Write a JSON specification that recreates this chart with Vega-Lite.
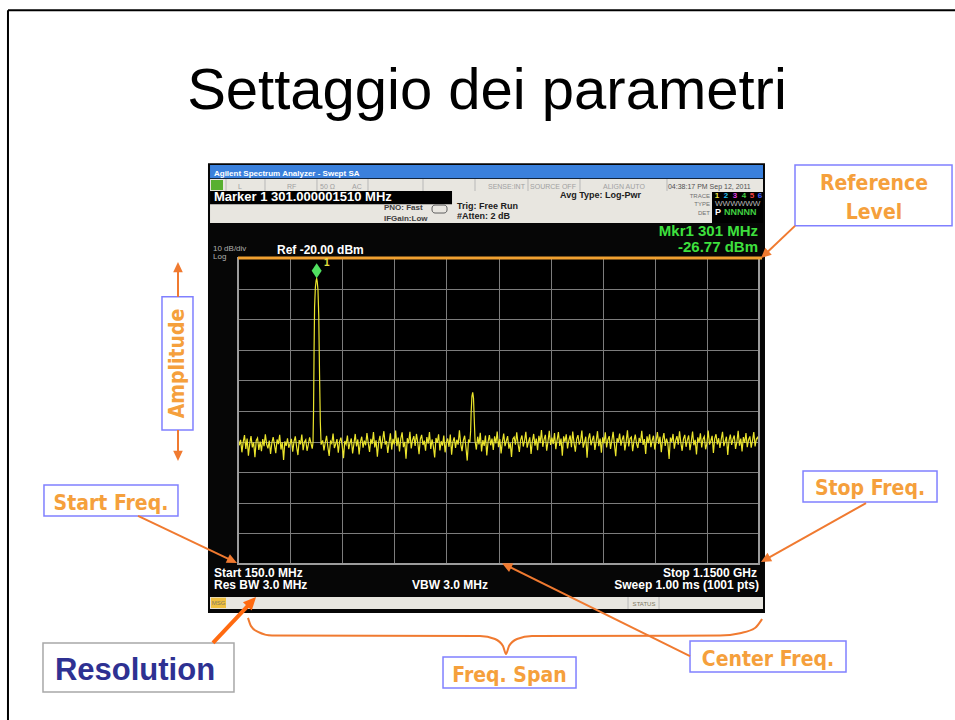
{
"$schema":"https://vega.github.io/schema/vega-lite/v6.json",
"width":521,"height":306,
"autosize":{"type":"none"},
"padding":{"left":238,"top":258,"right":196,"bottom":156},
"background":"#ffffff",
"config":{"font":"Liberation Sans","view":{"fill":"#000000","stroke":null},"text":{"baseline":"alphabetic"}},
"datasets":{"trace":[
{"f":150,"a":-78.6},{"f":152.5,"a":-81.2},{"f":155,"a":-79.4},{"f":157.5,"a":-83.5},{"f":160,"a":-80.1},{"f":162.5,"a":-77.9},{"f":165,"a":-82.4},{"f":167.5,"a":-79.0},{"f":170,"a":-84.6},{"f":172.5,"a":-80.7},{"f":175,"a":-78.2},{"f":177.5,"a":-81.9},{"f":180,"a":-80.3},{"f":182.5,"a":-85.1},{"f":185,"a":-79.6},{"f":187.5,"a":-78.8},{"f":190,"a":-82.7},{"f":192.5,"a":-80.0},{"f":195,"a":-83.1},{"f":197.5,"a":-79.2},
{"f":200,"a":-81.5},{"f":202.5,"a":-77.6},{"f":205,"a":-80.9},{"f":207.5,"a":-82.2},{"f":210,"a":-79.7},{"f":212.5,"a":-84.0},{"f":215,"a":-80.4},{"f":217.5,"a":-78.5},{"f":220,"a":-81.1},{"f":222.5,"a":-83.8},{"f":225,"a":-79.3},{"f":227.5,"a":-80.8},{"f":230,"a":-77.8},{"f":232.5,"a":-82.6},{"f":235,"a":-80.2},{"f":237.5,"a":-86.0},{"f":240,"a":-79.9},{"f":242.5,"a":-81.4},{"f":245,"a":-78.9},{"f":247.5,"a":-82.0},
{"f":250,"a":-80.6},{"f":252.5,"a":-79.1},{"f":255,"a":-83.3},{"f":257.5,"a":-80.0},{"f":260,"a":-78.3},{"f":262.5,"a":-81.7},{"f":265,"a":-84.4},{"f":267.5,"a":-79.5},{"f":270,"a":-80.9},{"f":272.5,"a":-77.7},{"f":275,"a":-82.8},{"f":277.5,"a":-80.1},{"f":280,"a":-79.4},{"f":282.5,"a":-83.0},{"f":285,"a":-81.0},{"f":287.5,"a":-78.6},{"f":290,"a":-80.5},{"f":292.5,"a":-82.3},
{"f":294,"a":-80.2},{"f":295,"a":-70.0},{"f":296,"a":-50.5},{"f":297,"a":-36.0},{"f":298.5,"a":-29.6},{"f":300,"a":-27.3},{"f":301,"a":-26.77},{"f":302,"a":-27.6},{"f":303.5,"a":-30.4},{"f":305,"a":-39.0},{"f":306.5,"a":-58.0},{"f":308,"a":-73.5},{"f":309.5,"a":-81.0},
{"f":312.5,"a":-79.6},{"f":315,"a":-82.9},{"f":317.5,"a":-80.3},{"f":320,"a":-78.1},{"f":322.5,"a":-81.8},{"f":325,"a":-84.7},{"f":327.5,"a":-79.9},{"f":330,"a":-80.6},{"f":332.5,"a":-77.4},{"f":335,"a":-82.1},{"f":337.5,"a":-80.8},{"f":340,"a":-79.2},{"f":342.5,"a":-83.6},{"f":345,"a":-80.0},{"f":347.5,"a":-78.7},
{"f":350,"a":-81.3},{"f":352.5,"a":-85.4},{"f":355,"a":-79.8},{"f":357.5,"a":-80.9},{"f":360,"a":-78.0},{"f":362.5,"a":-82.5},{"f":365,"a":-80.4},{"f":367.5,"a":-79.0},{"f":370,"a":-83.9},{"f":372.5,"a":-80.7},{"f":375,"a":-77.5},{"f":377.5,"a":-81.6},{"f":380,"a":-79.3},{"f":382.5,"a":-84.2},{"f":385,"a":-80.1},{"f":387.5,"a":-78.4},{"f":390,"a":-82.0},{"f":392.5,"a":-79.7},{"f":395,"a":-81.2},{"f":397.5,"a":-77.2},
{"f":400,"a":-80.5},{"f":402.5,"a":-83.4},{"f":405,"a":-79.1},{"f":407.5,"a":-80.8},{"f":410,"a":-76.9},{"f":412.5,"a":-81.9},{"f":415,"a":-79.6},{"f":417.5,"a":-84.9},{"f":420,"a":-80.2},{"f":422.5,"a":-78.1},{"f":425,"a":-82.3},{"f":427.5,"a":-79.4},{"f":430,"a":-76.6},{"f":432.5,"a":-81.0},{"f":435,"a":-79.8},{"f":437.5,"a":-83.7},{"f":440,"a":-80.3},{"f":442.5,"a":-77.3},{"f":445,"a":-82.6},{"f":447.5,"a":-79.1},
{"f":450,"a":-80.9},{"f":452.5,"a":-76.4},{"f":455,"a":-81.5},{"f":457.5,"a":-78.7},{"f":460,"a":-83.2},{"f":462.5,"a":-79.0},{"f":465,"a":-77.0},{"f":467.5,"a":-81.8},{"f":470,"a":-80.1},{"f":472.5,"a":-85.6},{"f":475,"a":-78.9},{"f":477.5,"a":-80.6},{"f":480,"a":-76.8},{"f":482.5,"a":-82.2},{"f":485,"a":-79.5},{"f":487.5,"a":-78.2},{"f":490,"a":-81.4},{"f":492.5,"a":-77.5},{"f":495,"a":-80.3},{"f":497.5,"a":-84.1},
{"f":500,"a":-79.2},{"f":502.5,"a":-77.8},{"f":505,"a":-81.1},{"f":507.5,"a":-79.7},{"f":510,"a":-83.0},{"f":512.5,"a":-78.5},{"f":515,"a":-80.7},{"f":517.5,"a":-76.9},{"f":520,"a":-82.4},{"f":522.5,"a":-79.3},{"f":525,"a":-81.6},{"f":527.5,"a":-85.2},{"f":530,"a":-78.8},{"f":532.5,"a":-80.4},{"f":535,"a":-77.6},{"f":537.5,"a":-82.9},{"f":540,"a":-79.9},{"f":542.5,"a":-81.3},{"f":545,"a":-78.0},{"f":547.5,"a":-83.5},
{"f":550,"a":-80.2},{"f":552.5,"a":-79.0},{"f":555,"a":-81.7},{"f":557.5,"a":-77.7},{"f":560,"a":-84.3},{"f":562.5,"a":-80.0},{"f":565,"a":-78.6},{"f":567.5,"a":-82.1},{"f":570,"a":-79.4},{"f":572.5,"a":-81.0},{"f":575,"a":-76.3},{"f":577.5,"a":-80.8},{"f":580,"a":-83.1},{"f":582.5,"a":-79.6},{"f":585,"a":-78.1},{"f":587.5,"a":-81.9},{"f":590,"a":-86.2},{"f":592.5,"a":-79.3},
{"f":595,"a":-80.3},{"f":596.5,"a":-76.5},{"f":597.5,"a":-70.5},{"f":599,"a":-65.2},{"f":600.5,"a":-63.9},{"f":602,"a":-65.8},{"f":603.5,"a":-72.9},{"f":605,"a":-79.8},
{"f":607.5,"a":-82.6},{"f":610,"a":-78.4},{"f":612.5,"a":-80.9},{"f":615,"a":-77.1},{"f":617.5,"a":-83.2},{"f":620,"a":-79.5},{"f":622.5,"a":-81.4},{"f":625,"a":-78.0},{"f":627.5,"a":-84.5},{"f":630,"a":-80.1},{"f":632.5,"a":-77.9},{"f":635,"a":-81.2},{"f":637.5,"a":-79.0},{"f":640,"a":-82.7},{"f":642.5,"a":-78.3},{"f":645,"a":-80.6},{"f":647.5,"a":-76.7},
{"f":650,"a":-81.8},{"f":652.5,"a":-79.2},{"f":655,"a":-83.9},{"f":657.5,"a":-80.0},{"f":660,"a":-77.4},{"f":662.5,"a":-81.5},{"f":665,"a":-79.8},{"f":667.5,"a":-78.2},{"f":670,"a":-82.3},{"f":672.5,"a":-80.4},{"f":675,"a":-85.0},{"f":677.5,"a":-79.1},{"f":680,"a":-78.5},{"f":682.5,"a":-81.0},{"f":685,"a":-77.0},{"f":687.5,"a":-80.7},{"f":690,"a":-83.4},{"f":692.5,"a":-79.4},{"f":695,"a":-78.0},{"f":697.5,"a":-81.6},
{"f":700,"a":-79.7},{"f":702.5,"a":-76.8},{"f":705,"a":-82.0},{"f":707.5,"a":-80.2},{"f":710,"a":-78.6},{"f":712.5,"a":-84.0},{"f":715,"a":-79.9},{"f":717.5,"a":-77.5},{"f":720,"a":-81.3},{"f":722.5,"a":-79.0},{"f":725,"a":-82.8},{"f":727.5,"a":-78.1},{"f":730,"a":-80.5},{"f":732.5,"a":-76.2},{"f":735,"a":-81.7},{"f":737.5,"a":-79.3},{"f":740,"a":-77.8},{"f":742.5,"a":-83.0},{"f":745,"a":-80.0},{"f":747.5,"a":-76.5},
{"f":750,"a":-81.1},{"f":752.5,"a":-78.7},{"f":755,"a":-80.8},{"f":757.5,"a":-77.2},{"f":760,"a":-82.5},{"f":762.5,"a":-79.5},{"f":765,"a":-76.9},{"f":767.5,"a":-81.4},{"f":770,"a":-79.0},{"f":772.5,"a":-84.6},{"f":775,"a":-78.3},{"f":777.5,"a":-80.1},{"f":780,"a":-77.6},{"f":782.5,"a":-82.2},{"f":785,"a":-79.6},{"f":787.5,"a":-78.0},{"f":790,"a":-81.8},{"f":792.5,"a":-76.7},{"f":795,"a":-80.4},{"f":797.5,"a":-83.3},
{"f":800,"a":-79.2},{"f":802.5,"a":-77.9},{"f":805,"a":-81.0},{"f":807.5,"a":-79.8},{"f":810,"a":-76.4},{"f":812.5,"a":-82.0},{"f":815,"a":-80.3},{"f":817.5,"a":-78.4},{"f":820,"a":-85.3},{"f":822.5,"a":-79.1},{"f":825,"a":-77.3},{"f":827.5,"a":-81.2},{"f":830,"a":-79.5},{"f":832.5,"a":-78.1},{"f":835,"a":-82.7},{"f":837.5,"a":-80.0},{"f":840,"a":-76.6},{"f":842.5,"a":-81.5},{"f":845,"a":-79.0},{"f":847.5,"a":-83.6},
{"f":850,"a":-78.6},{"f":852.5,"a":-80.6},{"f":855,"a":-77.0},{"f":857.5,"a":-81.9},{"f":860,"a":-79.4},{"f":862.5,"a":-78.2},{"f":865,"a":-82.4},{"f":867.5,"a":-79.7},{"f":870,"a":-76.8},{"f":872.5,"a":-80.9},{"f":875,"a":-84.8},{"f":877.5,"a":-78.9},{"f":880,"a":-80.2},{"f":882.5,"a":-77.4},{"f":885,"a":-81.3},{"f":887.5,"a":-79.3},{"f":890,"a":-78.0},{"f":892.5,"a":-82.9},{"f":895,"a":-80.1},{"f":897.5,"a":-76.3},
{"f":900,"a":-81.6},{"f":902.5,"a":-79.0},{"f":905,"a":-78.5},{"f":907.5,"a":-83.1},{"f":910,"a":-79.8},{"f":912.5,"a":-77.7},{"f":915,"a":-80.7},{"f":917.5,"a":-82.1},{"f":920,"a":-78.8},{"f":922.5,"a":-80.3},{"f":925,"a":-76.5},{"f":927.5,"a":-81.1},{"f":930,"a":-79.2},{"f":932.5,"a":-84.0},{"f":935,"a":-78.3},{"f":937.5,"a":-80.5},{"f":940,"a":-77.6},{"f":942.5,"a":-81.8},{"f":945,"a":-79.6},{"f":947.5,"a":-78.1},
{"f":950,"a":-82.6},{"f":952.5,"a":-79.9},{"f":955,"a":-76.9},{"f":957.5,"a":-80.8},{"f":960,"a":-78.4},{"f":962.5,"a":-83.5},{"f":965,"a":-79.3},{"f":967.5,"a":-77.2},{"f":970,"a":-81.4},{"f":972.5,"a":-79.0},{"f":975,"a":-80.6},{"f":977.5,"a":-85.7},{"f":980,"a":-78.7},{"f":982.5,"a":-80.1},{"f":985,"a":-77.5},{"f":987.5,"a":-82.3},{"f":990,"a":-79.7},{"f":992.5,"a":-78.2},{"f":995,"a":-81.0},{"f":997.5,"a":-76.6},
{"f":1000,"a":-80.4},{"f":1002.5,"a":-83.0},{"f":1005,"a":-79.1},{"f":1007.5,"a":-77.8},{"f":1010,"a":-81.7},{"f":1012.5,"a":-79.5},{"f":1015,"a":-78.0},{"f":1017.5,"a":-82.8},{"f":1020,"a":-80.0},{"f":1022.5,"a":-76.7},{"f":1025,"a":-81.2},{"f":1027.5,"a":-79.4},{"f":1030,"a":-84.2},{"f":1032.5,"a":-78.6},{"f":1035,"a":-80.3},{"f":1037.5,"a":-77.3},{"f":1040,"a":-81.9},{"f":1042.5,"a":-79.2},{"f":1045,"a":-78.3},{"f":1047.5,"a":-82.5},
{"f":1050,"a":-80.7},{"f":1052.5,"a":-76.4},{"f":1055,"a":-81.0},{"f":1057.5,"a":-79.8},{"f":1060,"a":-78.1},{"f":1062.5,"a":-83.7},{"f":1065,"a":-79.0},{"f":1067.5,"a":-77.6},{"f":1070,"a":-80.9},{"f":1072.5,"a":-78.9},{"f":1075,"a":-82.1},{"f":1077.5,"a":-79.3},{"f":1080,"a":-76.8},{"f":1082.5,"a":-81.5},{"f":1085,"a":-79.9},{"f":1087.5,"a":-78.4},{"f":1090,"a":-84.4},{"f":1092.5,"a":-79.6},{"f":1095,"a":-77.7},{"f":1097.5,"a":-81.1},
{"f":1100,"a":-79.2},{"f":1102.5,"a":-78.0},{"f":1105,"a":-82.4},{"f":1107.5,"a":-80.2},{"f":1110,"a":-76.5},{"f":1112.5,"a":-81.3},{"f":1115,"a":-79.0},{"f":1117.5,"a":-83.2},{"f":1120,"a":-78.5},{"f":1122.5,"a":-80.4},{"f":1125,"a":-77.2},{"f":1127.5,"a":-81.8},{"f":1130,"a":-79.4},{"f":1132.5,"a":-78.3},{"f":1135,"a":-82.0},{"f":1137.5,"a":-79.7},{"f":1140,"a":-76.9},{"f":1142.5,"a":-81.6},{"f":1145,"a":-79.1},{"f":1147.5,"a":-78.6},{"f":1150,"a":-80.2}
]},
"encoding":{
"x":{"field":"f","type":"quantitative","scale":{"domain":[150,1150],"nice":false,"zero":false},"axis":{"values":[150,250,350,450,550,650,750,850,950,1050,1150],"labels":false,"ticks":false,"domain":false,"grid":true,"gridColor":"#7c7c7c","gridWidth":1,"title":null}},
"y":{"field":"a","type":"quantitative","scale":{"domain":[-120,-20],"nice":false,"zero":false},"axis":{"values":[-30,-40,-50,-60,-70,-80,-90,-100,-110],"labelExpr":"datum.value <= -100 ? '' + datum.value : datum.value + '.0'","ticks":false,"domain":false,"grid":true,"gridColor":"#7c7c7c","gridWidth":1,"labelFontSize":8,"labelColor":"#a8a8a8","labelPadding":3,"labelFont":"Liberation Sans","title":null}}
},
"layer":[
{"data":{"values":[{"f":92.4,"f2":1161.5,"a":11.0,"a2":-20},{"f":92.4,"f2":1161.5,"a":-120,"a2":-136.0},{"f":92.4,"f2":150,"a":-20,"a2":-120},{"f":1150,"f2":1161.5,"a":-20,"a2":-120}]},"mark":{"type":"rect","color":"#060606"},"encoding":{"x2":{"field":"f2"},"y2":{"field":"a2"}}},
{"data":{"values":[{"f":96.3,"f2":1157.7,"a":10.4,"a2":6.1}]},"mark":{"type":"rect","color":"#3a80dc"},"encoding":{"x2":{"field":"f2"},"y2":{"field":"a2"}}},
{"data":{"values":[{"f":96.3,"f2":1157.7,"a":5.8,"a2":1.9},{"f":96.3,"f2":1157.7,"a":1.9,"a2":-8.6},{"f":96.3,"f2":1157.7,"a":-130.8,"a2":-134.7}]},"mark":{"type":"rect","color":"#e8e6e0"},"encoding":{"x2":{"field":"f2"},"y2":{"field":"a2"}}},
{"data":{"values":[{"f":96.3,"f2":560.8,"a":1.9,"a2":-2.4},{"f":1059.8,"f2":1157.7,"a":1.6,"a2":-8.6}]},"mark":{"type":"rect","color":"#000000"},"encoding":{"x2":{"field":"f2"},"y2":{"field":"a2"}}},
{"data":{"values":[{"f":98.2,"f2":121.2,"a":5.5,"a2":2.2}]},"mark":{"type":"rect","color":"#58b030"},"encoding":{"x2":{"field":"f2"},"y2":{"field":"a2"}}},
{"data":{"values":[{"f":98.2,"f2":127.0,"a":-131.0,"a2":-134.4}]},"mark":{"type":"rect","color":"#f0c040"},"encoding":{"x2":{"field":"f2"},"y2":{"field":"a2"}}},
{"data":{"values":[{"f":522.4,"f2":551.2,"a":-2.7,"a2":-5.3}]},"mark":{"type":"rect","fill":"transparent","stroke":"#606060","strokeWidth":1,"cornerRadius":3},"encoding":{"x2":{"field":"f2"},"y2":{"field":"a2"}}},
{"data":{"values":[{"f":127.0,"a":5.8,"a2":1.9},{"f":201.8,"a":5.8,"a2":1.9},{"f":301.6,"a":5.8,"a2":1.9},{"f":399.5,"a":5.8,"a2":1.9},{"f":505.1,"a":5.8,"a2":1.9},{"f":604.9,"a":5.8,"a2":1.9},{"f":706.6,"a":5.8,"a2":1.9},{"f":806.4,"a":5.8,"a2":1.9},{"f":973.4,"a":5.8,"a2":1.9},{"f":898.6,"a":-130.8,"a2":-134.7},{"f":958.1,"a":-130.8,"a2":-134.7}]},"mark":{"type":"rule","color":"#b8b8b8","strokeWidth":1},"encoding":{"y2":{"field":"a2"}}},
{"data":{"name":"trace"},"mark":{"type":"line","color":"#ebe52c","strokeWidth":1.2}},
{"data":{"values":[{"f":150,"f2":1150,"a":-20,"a2":-120}]},"mark":{"type":"rect","fill":"transparent","stroke":"#9c9c9c","strokeWidth":2},"encoding":{"x2":{"field":"f2"},"y2":{"field":"a2"}}},
{"data":{"values":[{"f":150,"f2":1155.8,"a":-20}]},"mark":{"type":"rule","color":"#f0a030","strokeWidth":3},"encoding":{"x2":{"field":"f2"}}},
{"data":{"values":[{"f":301,"a":-24.2}]},"mark":{"type":"point","shape":"M0,-1L0.67,0L0,1L-0.67,0Z","size":225,"filled":true,"opacity":1,"color":"#50e060"}},
{"data":{"values":[{"f":315.1,"a":-22.6,"t":"1"}]},"mark":{"type":"text","color":"#e8e040","fontSize":10,"fontWeight":"bold","align":"left"},"encoding":{"text":{"field":"t"}}},
{"data":{"values":[{"f":103.9,"a":6.8,"t":"Agilent Spectrum Analyzer - Swept SA"}]},"mark":{"type":"text","color":"#ffffff","fontSize":8,"fontWeight":"bold","align":"left"},"encoding":{"text":{"field":"t"}}},
{"data":{"values":[{"f":150,"a":2.5,"t":"L"},{"f":244.1,"a":2.5,"t":"RF"},{"f":307.4,"a":2.5,"t":"50 Ω"},{"f":368.8,"a":2.5,"t":"AC"},{"f":629.8,"a":2.5,"t":"SENSE:INT"},{"f":710.5,"a":2.5,"t":"SOURCE OFF"},{"f":850.6,"a":2.5,"t":"ALIGN AUTO"}]},"mark":{"type":"text","color":"#a0a0a0","fontSize":7,"align":"left"},"encoding":{"text":{"field":"t"}}},
{"data":{"values":[{"f":975.3,"a":2.5,"t":"04:38:17 PM Sep 12, 2011"}]},"mark":{"type":"text","color":"#505050","fontSize":7,"align":"left"},"encoding":{"text":{"field":"t"}}},
{"data":{"values":[{"f":103.9,"a":-1.5,"t":"Marker 1  301.000001510 MHz"}]},"mark":{"type":"text","color":"#ffffff","fontSize":13,"fontWeight":"bold","align":"left"},"encoding":{"text":{"field":"t"}}},
{"data":{"values":[{"f":430.2,"a":-4.3,"t":"PNO: Fast"},{"f":430.2,"a":-7.8,"t":"IFGain:Low"}]},"mark":{"type":"text","color":"#404040","fontSize":8,"fontWeight":"bold","align":"left"},"encoding":{"text":{"field":"t"}}},
{"data":{"values":[{"f":570.4,"a":-4.0,"t":"Trig: Free Run"},{"f":570.4,"a":-7.4,"t":"#Atten: 2 dB"},{"f":768.0,"a":-0.4,"t":"Avg Type: Log-Pwr"}]},"mark":{"type":"text","color":"#202020","fontSize":9,"fontWeight":"bold","align":"left"},"encoding":{"text":{"field":"t"}}},
{"data":{"values":[{"f":1056.0,"a":-0.5,"t":"TRACE"},{"f":1056.0,"a":-3.0,"t":"TYPE"},{"f":1056.0,"a":-5.9,"t":"DET"}]},"mark":{"type":"text","color":"#707070","fontSize":6,"align":"right"},"encoding":{"text":{"field":"t"}}},
{"data":{"values":[{"f":1069.4,"a":-0.5,"n":"1"},{"f":1086.7,"a":-0.5,"n":"2"},{"f":1103.9,"a":-0.5,"n":"3"},{"f":1121.2,"a":-0.5,"n":"4"},{"f":1136.6,"a":-0.5,"n":"5"},{"f":1151.9,"a":-0.5,"n":"6"}]},"mark":{"type":"text","fontSize":8,"fontWeight":"bold","align":"center"},"encoding":{"text":{"field":"n"},"color":{"field":"n","type":"nominal","scale":{"domain":["1","2","3","4","5","6"],"range":["#f0e040","#20c0f0","#e040e0","#40d040","#f04040","#4060ff"]},"legend":null}}},
{"data":{"values":[{"f":1065.6,"a":-3.0,"t":"WWWWWW"}]},"mark":{"type":"text","color":"#b8b8b8","fontSize":8,"align":"left"},"encoding":{"text":{"field":"t"}}},
{"data":{"values":[{"f":1065.6,"a":-5.9,"t":"P"}]},"mark":{"type":"text","color":"#ffffff","fontSize":9,"fontWeight":"bold","align":"left"},"encoding":{"text":{"field":"t"}}},
{"data":{"values":[{"f":1082.8,"a":-5.9,"t":"NNNNN"}]},"mark":{"type":"text","color":"#40d040","fontSize":9,"fontWeight":"bold","align":"left"},"encoding":{"text":{"field":"t"}}},
{"data":{"values":[{"f":1148.1,"a":-12.8,"t":"Mkr1 301 MHz"},{"f":1148.1,"a":-18.0,"t":"-26.77 dBm"}]},"mark":{"type":"text","color":"#3ee03e","fontSize":15,"fontWeight":"bold","align":"right"},"encoding":{"text":{"field":"t"}}},
{"data":{"values":[{"f":102.0,"a":-17.7,"t":"10 dB/div"},{"f":102.0,"a":-20.3,"t":"Log"}]},"mark":{"type":"text","color":"#b0b0b0","fontSize":8,"align":"left"},"encoding":{"text":{"field":"t"}}},
{"data":{"values":[{"f":224.9,"a":-18.7,"t":"Ref -20.00 dBm"}]},"mark":{"type":"text","color":"#ffffff","fontSize":12,"fontWeight":"bold","align":"left"},"encoding":{"text":{"field":"t"}}},
{"data":{"values":[{"f":103.9,"a":-124.2,"t":"Start 150.0 MHz"},{"f":103.9,"a":-128.2,"t":"Res BW 3.0 MHz"},{"f":484.0,"a":-128.2,"t":"VBW 3.0 MHz"}]},"mark":{"type":"text","color":"#ffffff","fontSize":12,"fontWeight":"bold","align":"left"},"encoding":{"text":{"field":"t"}}},
{"data":{"values":[{"f":1146.2,"a":-124.2,"t":"Stop 1.1500 GHz"},{"f":1150,"a":-128.2,"t":"Sweep  1.00 ms (1001 pts)"}]},"mark":{"type":"text","color":"#ffffff","fontSize":12,"fontWeight":"bold","align":"right"},"encoding":{"text":{"field":"t"}}},
{"data":{"values":[{"f":112.6,"a":-133.4,"t":"MSG"},{"f":929.3,"a":-133.6,"t":"STATUS"}]},"mark":{"type":"text","color":"#807a60","fontSize":6,"align":"center"},"encoding":{"text":{"field":"t"}}},
{"data":{"values":[{"f":-291.5,"f2":1526.2,"a":61.0,"a2":61.0},{"f":-291.5,"f2":-291.5,"a":61.0,"a2":-171.0}]},"mark":{"type":"rule","color":"#000000","strokeWidth":2},"encoding":{"x2":{"field":"f2"},"y2":{"field":"a2"}}},
{"data":{"values":[{"f":627.9,"a":28.7,"t":"Settaggio dei parametri"}]},"mark":{"type":"text","color":"#000000","fontSize":58,"align":"center","font":"Liberation Sans"},"encoding":{"text":{"field":"t"}}},
{"data":{"values":[{"f":1219.1,"f2":1520.5,"a":10.4,"a2":-9.5},{"f":4.1,"f2":63.6,"a":-32.7,"a2":-76.2},{"f":-222.4,"f2":34.8,"a":-94.2,"a2":-104.3},{"f":1234.5,"f2":1491.7,"a":-89.6,"a2":-99.7},{"f":543.5,"f2":798.8,"a":-150.4,"a2":-160.5},{"f":1017.6,"f2":1317.0,"a":-145.2,"a2":-155.3}]},"mark":{"type":"rect","fill":"#ffffff","stroke":"#8080ff","strokeWidth":1.5},"encoding":{"x2":{"field":"f2"},"y2":{"field":"a2"}}},
{"data":{"values":[{"f":-224.3,"f2":142.3,"a":-145.8,"a2":-161.8}]},"mark":{"type":"rect","fill":"#ffffff","stroke":"#a8a8a8","strokeWidth":1.5},"encoding":{"x2":{"field":"f2"},"y2":{"field":"a2"}}},
{"data":{"values":[{"f":1370.7,"a":2.2,"t":"Reference"},{"f":1370.7,"a":-7.3,"t":"Level"},{"f":-93.8,"a":-102.4,"t":"Start Freq."},{"f":1363.1,"a":-97.5,"t":"Stop Freq."},{"f":671.1,"a":-158.6,"t":"Freq. Span"},{"f":1167.3,"a":-153.3,"t":"Center Freq."}]},"mark":{"type":"text","color":"#f5a03c","fontSize":21,"fontWeight":"bold","align":"center","font":"Liberation Sans Narrow, DejaVu Sans Condensed, Liberation Sans"},"encoding":{"text":{"field":"t"}}},
{"data":{"values":[{"f":33.9,"a":-54.5,"t":"Amplitude"}]},"mark":{"type":"text","color":"#f5a03c","fontSize":21,"fontWeight":"bold","align":"center","baseline":"middle","angle":270,"font":"Liberation Sans Narrow, DejaVu Sans Condensed, Liberation Sans"},"encoding":{"text":{"field":"t"}}},
{"data":{"values":[{"f":-47.7,"a":-157.9,"t":"Resolution"}]},"mark":{"type":"text","color":"#2e3192","fontSize":31,"fontWeight":"bold","align":"center","font":"Liberation Sans"},"encoding":{"text":{"field":"t"}}},
{"data":{"values":[{"f":1219.1,"a":-9.5,"f2":1162.3,"a2":-18.7},{"f":-41.9,"a":-104.3,"f2":137.7,"a2":-118.8},{"f":1355.4,"a":-100.1,"f2":1163.8,"a2":-118.4},{"f":1017.6,"a":-150.1,"f2":667.1,"a2":-120.6},{"f":34.8,"a":-32.7,"f2":34.8,"a2":-23.3},{"f":34.8,"a":-76.2,"f2":34.8,"a2":-84.4}]},"mark":{"type":"rule","color":"#f07a30","strokeWidth":2},"encoding":{"x2":{"field":"f2"},"y2":{"field":"a2"}}},
{"data":{"values":[{"f":102.0,"a":-145.8,"f2":174.8,"a2":-132.6}]},"mark":{"type":"rule","color":"#ff6a10","strokeWidth":4},"encoding":{"x2":{"field":"f2"},"y2":{"field":"a2"}}},
{"data":{"values":[{"f":169.2,"a":-137.6},{"f":175.0,"a":-140.3},{"f":188.4,"a":-142.2},{"f":215.3,"a":-143.4},{"f":614.5,"a":-143.5},{"f":643.3,"a":-144.5},{"f":658.6,"a":-146.8},{"f":664.4,"a":-149.4},{"f":670.2,"a":-146.8},{"f":685.5,"a":-144.5},{"f":714.3,"a":-143.5},{"f":1075.2,"a":-143.4},{"f":1113.5,"a":-142.6},{"f":1142.3,"a":-140.9},{"f":1155.8,"a":-138.0}]},"mark":{"type":"line","color":"#f07a30","strokeWidth":2,"interpolate":"monotone"}},
{"data":{"values":[{"f":1162.3,"a":-18.7}]},"mark":{"type":"point","shape":"M0,-1L0.8,0.7L-0.8,0.7Z","size":144,"filled":true,"opacity":1,"color":"#f07a30","angle":227}},
{"data":{"values":[{"f":137.7,"a":-118.8}]},"mark":{"type":"point","shape":"M0,-1L0.8,0.7L-0.8,0.7Z","size":144,"filled":true,"opacity":1,"color":"#f07a30","angle":115.4}},
{"data":{"values":[{"f":1163.8,"a":-118.4}]},"mark":{"type":"point","shape":"M0,-1L0.8,0.7L-0.8,0.7Z","size":144,"filled":true,"opacity":1,"color":"#f07a30","angle":240.7}},
{"data":{"values":[{"f":667.1,"a":-120.6}]},"mark":{"type":"point","shape":"M0,-1L0.8,0.7L-0.8,0.7Z","size":144,"filled":true,"opacity":1,"color":"#f07a30","angle":296.3}},
{"data":{"values":[{"f":34.8,"a":-23.3}]},"mark":{"type":"point","shape":"M0,-1L0.8,0.7L-0.8,0.7Z","size":144,"filled":true,"opacity":1,"color":"#f07a30","angle":0}},
{"data":{"values":[{"f":34.8,"a":-84.4}]},"mark":{"type":"point","shape":"M0,-1L0.8,0.7L-0.8,0.7Z","size":144,"filled":true,"opacity":1,"color":"#f07a30","angle":180}},
{"data":{"values":[{"f":174.8,"a":-132.6}]},"mark":{"type":"point","shape":"M0,-1L0.8,0.7L-0.8,0.7Z","size":225,"filled":true,"opacity":1,"color":"#ff6a10","angle":43.1}}
]
}
